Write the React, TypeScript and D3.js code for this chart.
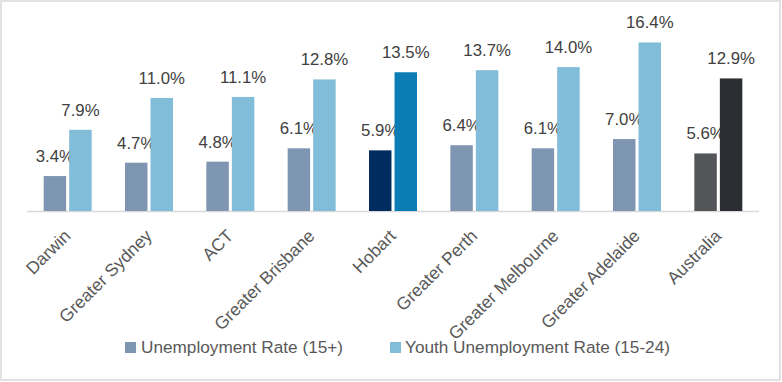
import React from "react";
import * as d3 from "d3";

const categories = ["Darwin", "Greater Sydney", "ACT", "Greater Brisbane", "Hobart", "Greater Perth", "Greater Melbourne", "Greater Adelaide", "Australia"];
const unemployment = [3.4, 4.7, 4.8, 6.1, 5.9, 6.4, 6.1, 7.0, 5.6];
const youth = [7.9, 11.0, 11.1, 12.8, 13.5, 13.7, 14.0, 16.4, 12.9];
const seriesNames = ["Unemployment Rate (15+)", "Youth Unemployment Rate (15-24)"];
const seriesColors = ["#7f96b2", "#81bcd9"];
const highlight: Record<string, [string, string]> = {
  Hobart: ["#002c5f", "#0b7db4"],
  Australia: ["#545558", "#2b2e33"],
};

const W = 782;
const H = 382;
const FONT = "'Liberation Sans', Arial, sans-serif";

export default function App() {
  const x = d3.scaleBand<string>().domain(categories).range([27, 759]).paddingInner(0).paddingOuter(0);
  const bw = x.bandwidth();
  const x1 = d3.scaleBand<string>().domain(["u", "y"]).range([bw / 2 - 24, bw / 2 + 24]).paddingInner(0.12);
  const y = d3.scaleLinear().domain([0, 18]).range([211, 26]);

  const bars: React.ReactNode[] = [];
  categories.forEach((c, i) => {
    const vals = [unemployment[i], youth[i]];
    ["u", "y"].forEach((k, j) => {
      const v = vals[j];
      const bx = (x(c) as number) + (x1(k) as number);
      const color = highlight[c] ? highlight[c][j] : seriesColors[j];
      bars.push(
        <rect key={c + k} x={bx} y={y(v)} width={x1.bandwidth()} height={y(0) - y(v)} fill={color} />
      );
      bars.push(
        <text key={c + k + "l"} x={bx + x1.bandwidth() / 2} y={y(v) - 14} textAnchor="middle" fontSize={16.8} fill="#404040" fontFamily={FONT}>
          {v.toFixed(1) + "%"}
        </text>
      );
    });
  });

  return (
    <svg width={W} height={H} style={{ position: "absolute", left: 0, top: 0, background: "#fff" }}>
      <rect x={1} y={1} width={779} height={379} fill="#fff" stroke="#d9d9d9" strokeWidth={1.5} />
      <line x1={27} x2={759} y1={211.5} y2={211.5} stroke="#d9d9d9" strokeWidth={1.5} />
      {bars}
      {categories.map((c) => {
        const cx = (x(c) as number) + bw / 2 + 4;
        const cy = 237;
        return (
          <text key={c} x={cx} y={cy} transform={`rotate(-45 ${cx} ${cy})`} textAnchor="end" fontSize={17.5} fill="#595959" fontFamily={FONT}>
            {c}
          </text>
        );
      })}
      <g>
        <rect x={125} y={342} width={11} height={11} fill={seriesColors[0]} />
        <text x={141} y={352.5} fontSize={17.2} fill="#595959" fontFamily={FONT}>{seriesNames[0]}</text>
        <rect x={390} y={342} width={11} height={11} fill={seriesColors[1]} />
        <text x={405} y={352.5} fontSize={17.2} fill="#595959" fontFamily={FONT}>{seriesNames[1]}</text>
      </g>
    </svg>
  );
}
